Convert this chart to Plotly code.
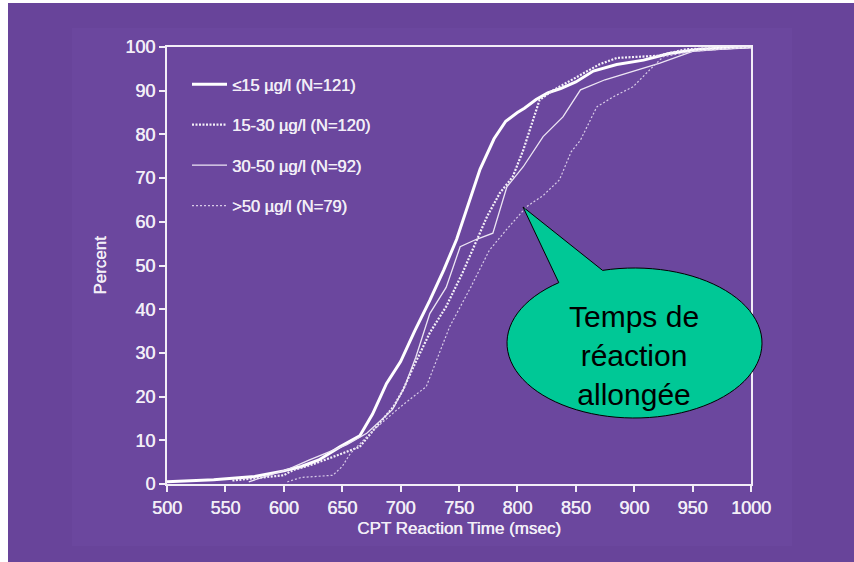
import math
import plotly.graph_objects as go

# ---------------- data ----------------
labels = ["≤15 µg/l (N=121)", "15-30 µg/l (N=120)", "30-50 µg/l (N=92)", ">50 µg/l (N=79)"]

x_le15 = [500, 540, 575, 600, 615, 630, 648, 665, 676, 688, 700, 712, 725, 737, 748, 758, 768, 780, 790, 800,
          806, 816, 826, 837, 850, 865, 885, 908, 930, 956, 1000]
y_le15 = [0.5, 1.0, 1.7, 3.0, 4.0, 5.5, 8.5, 11.0, 16.0, 23.0, 28.0, 35.0, 42.0, 49.0, 56.0, 64.0, 72.0, 79.0, 83.0, 85.0,
          86.0, 88.0, 89.5, 90.5, 92.0, 94.5, 96.0, 97.0, 98.5, 99.5, 100]

x_15_30 = [556, 580, 600, 608, 625, 642, 665, 677, 694, 702, 711, 725, 739, 753, 765, 774, 785, 796, 805, 813,
           819, 830, 850, 870, 885, 920, 945, 1000]
y_15_30 = [0.8, 1.4, 2.0, 3.2, 4.5, 6.2, 8.5, 12.4, 17.7, 21.5, 26.8, 34.6, 40.6, 48.3, 55.8, 61.2, 66.6, 70.3, 76.4, 83.3,
           87.9, 90.0, 93.0, 96.0, 97.5, 98.0, 99.5, 100]

x_30_50 = [570, 588, 605, 622, 640, 654, 671, 693, 703, 713, 725, 739, 751, 765, 779, 791, 805, 822, 839, 854,
           875, 894, 922, 950, 1000]
y_30_50 = [0.5, 2.0, 3.5, 5.5, 7.5, 9.0, 11.6, 17.0, 22.0, 29.0, 39.0, 45.0, 54.3, 56.0, 57.4, 68.0, 72.6, 79.5, 84.0, 90.2,
           92.5, 94.0, 96.3, 99.0, 100]

x_gt50 = [603, 615, 642, 650, 657, 677, 700, 722, 742, 760, 776, 790, 808, 822, 836, 846, 854, 868, 882, 899,
          916, 925, 950, 1000]
y_gt50 = [0.5, 1.5, 2.0, 4.0, 7.0, 12.4, 17.7, 22.3, 36.0, 45.0, 53.5, 58.0, 63.5, 66.0, 69.6, 76.0, 78.7, 86.3, 88.6, 90.9,
          95.5, 97.8, 99.0, 100]

x_ticks = [500, 550, 600, 650, 700, 750, 800, 850, 900, 950, 1000]
y_ticks = [0, 10, 20, 30, 40, 50, 60, 70, 80, 90, 100]

callout_text = "Temps de<br>réaction<br>allongée"

# ---------------- styling ----------------
W, H = 854, 562
L, R, T, B = 167, 751, 47, 484          # plot area in pixels
PURPLE = "#68449A"
FG = "#F2EEF7"
GREEN = "#00C896"
FONT = "Liberation Sans, Arial, sans-serif"
SHADOW = "0.45px 0 0 #F2EEF7"


def px(x):
    return (x - L) / (R - L)


def py(y):
    return (B - y) / (B - T)


fig = go.Figure()
series = [
    (x_le15, y_le15, dict(color="#FFFFFF", width=3)),
    (x_15_30, y_15_30, dict(color="#F4F0F8", width=2.2, dash="2px,1.5px")),
    (x_30_50, y_30_50, dict(color="#EDE6F4", width=1.3)),
    (x_gt50, y_gt50, dict(color="#D9CCE8", width=1.2, dash="2px,2px")),
]
for i, (xs, ys, ln) in enumerate(series):
    fig.add_trace(go.Scatter(x=xs, y=ys, mode="lines", line=ln, name=labels[i],
                             legendgroup=f"g{i}", showlegend=True))

# speech bubble outline: ellipse arc + pointer, as one closed path (pixel geometry -> paper)
cx, cy, a, b = 634.5, 343.0, 127.5, 75.0
tip = (523, 207)
t_start = math.atan2(-0.987, -0.255)               # right base of pointer
t_end = math.atan2(-0.813, -0.600) + 2 * math.pi   # left base of pointer
pts = []
n = 90
for k in range(n + 1):
    t = t_start + (t_end - t_start) * k / n
    pts.append((cx + a * math.cos(t), cy + b * math.sin(t)))
pts.append(tip)
bubble_path = "M " + " L ".join(f"{px(x):.5f},{py(y):.5f}" for x, y in pts) + " Z"

shapes = [
    dict(type="rect", xref="paper", yref="paper", x0=px(-5), x1=px(8), y0=py(-5), y1=py(H + 5),
         fillcolor="white", line=dict(width=0), layer="below"),
    dict(type="rect", xref="paper", yref="paper", x0=px(-5), x1=px(W + 5), y0=py(-5), y1=py(3),
         fillcolor="white", line=dict(width=0), layer="below"),
    dict(type="rect", xref="paper", yref="paper", x0=px(72), x1=px(792), y0=py(28), y1=py(546),
         fillcolor="#6B479E", line=dict(width=0), layer="below"),
    dict(type="path", xref="paper", yref="paper", path=bubble_path,
         fillcolor=GREEN, line=dict(color="black", width=1), layer="above"),
]

axis_common = dict(showline=True, linecolor=FG, linewidth=2, mirror=True, ticks="outside",
                   ticklen=6, tickwidth=1.5, tickcolor=FG, showgrid=False, zeroline=False,
                   tickfont=dict(family=FONT, size=18, color=FG, shadow=SHADOW))

fig.update_layout(
    width=W, height=H,
    margin=dict(l=L, r=W - R, t=T, b=H - B, pad=0),
    paper_bgcolor=PURPLE, plot_bgcolor="rgba(0,0,0,0)",
    xaxis=dict(range=[500, 1000], tickvals=x_ticks, ticktext=[str(v) for v in x_ticks],
               title=dict(text="CPT Reaction Time (msec)",
                          font=dict(family=FONT, size=17, color=FG, shadow=SHADOW), standoff=6),
               **axis_common),
    yaxis=dict(range=[0, 100], tickvals=y_ticks, ticktext=[str(v) for v in y_ticks],
               title=dict(text="Percent", font=dict(family=FONT, size=17, color=FG, shadow=SHADOW), standoff=14),
               **axis_common),
    legend=dict(x=px(187), y=py(67), xanchor="left", yanchor="top", bgcolor="rgba(0,0,0,0)",
                font=dict(family=FONT, size=16.5, color=FG, shadow=SHADOW), tracegroupgap=16, itemwidth=35),
    shapes=shapes,
    annotations=[dict(xref="paper", yref="paper", x=px(634), y=py(355), text=callout_text,
                      showarrow=False, font=dict(family=FONT, size=30, color="black"),
                      xanchor="center", yanchor="middle", align="center")],
)

fig.write_html("out.html", post_script="document.body.style.background='#68449A';")
